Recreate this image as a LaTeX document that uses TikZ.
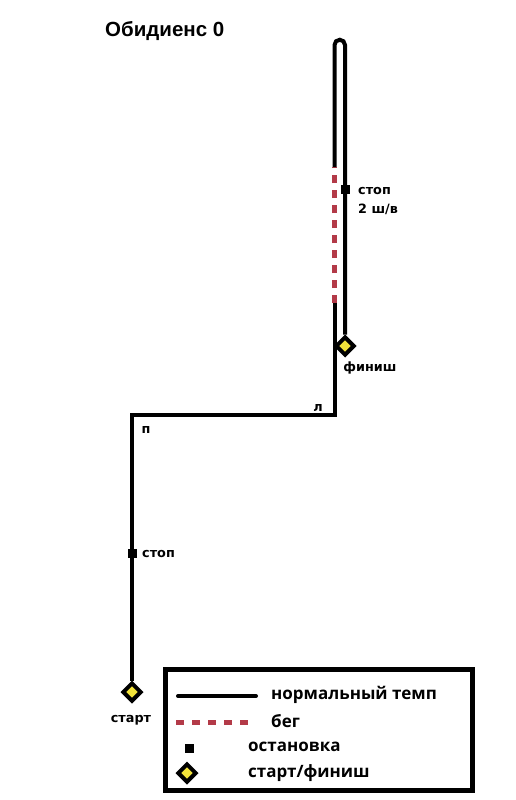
\documentclass[tikz,border=0pt]{standalone}
\usepackage{fontspec}
\setmainfont{Liberation Sans}
\newfontfamily\legfont{Open Sans}
\newfontfamily\lblfont{DejaVu Sans}
\usetikzlibrary{shapes.geometric}
\definecolor{runred}{HTML}{B33A48}
\definecolor{dyellow}{HTML}{F2E33A}
\tikzset{
  walk/.style={line width=4pt, black},
  run/.style={line width=5pt, runred, dash pattern=on 8pt off 7pt},
  stopmark/.style={fill=black, minimum size=9pt, inner sep=0pt, draw=none},
  startmark/.style={diamond, draw=black, line width=4pt, fill=dyellow, minimum size=19pt, inner sep=0pt},
  lbl/.style={font=\lblfont\bfseries\fontsize{12.8pt}{14pt}\selectfont, inner sep=0pt},
  leg/.style={font=\legfont\bfseries\fontsize{17pt}{18pt}\selectfont, inner sep=0pt, anchor=west},
}
\begin{document}
\begin{tikzpicture}[x=1pt,y=-1pt]
\useasboundingbox (0,0) rectangle (516,800);
% title
\node[font=\bfseries\fontsize{20.5pt}{21pt}\selectfont, anchor=west, inner sep=0pt] (title) at (105,31) {Обидиенс 0};
% markers
\node[startmark] (start) at (132,692) {};
\node[startmark] (finish) at (345,346) {};
\coordinate (pcorner) at (132,415);
\coordinate (lcorner) at (334.5,415);
\coordinate (runbot) at (334.5,303);
\coordinate (runtop) at (334.5,167);
\coordinate (hl) at (334.5,45);
\coordinate (hr) at (345,45);
% path
\draw[walk, line join=miter] (start.north) -- (pcorner) -- (lcorner) -- (runbot);
\draw[run] (runbot) -- (runtop);
\draw[walk] (runtop) -- (hl) arc[start angle=180, end angle=360, radius=5.25] -- (finish.north);
% stops
\node[stopmark] (stop1) at (345,189) {};
\node[stopmark] (stop2) at (132,553) {};
% labels
\node[lbl, anchor=west] (stop1lbl) at (358,191) {стоп};
\node[lbl, anchor=west] (stop1lblb) at (358,209) {2 ш/в};
\node[lbl, anchor=west] (stop2lbl) at (142,554) {стоп};
\node[lbl] (finlbl) at (370,368) {финиш};
\node[lbl] (stlbl) at (131,720) {старт};
\node[lbl] (llbl) at (318,408) {л};
\node[lbl] (plbl) at (146,430) {п};
% legend
\draw[line width=5pt] (165,669.5) rectangle (472,790.5);
\coordinate (l1a) at (178,696);
\coordinate (l1b) at (256,696);
\draw[walk, line cap=round] (l1a) -- (l1b);
\node[leg] (t1) at (271,695) {нормальный темп};
\coordinate (l2a) at (176,722);
\coordinate (l2b) at (252,722);
\draw[runred, line width=5pt, dash pattern=on 8pt off 8pt] (l2a) -- (l2b);
\node[leg] (t2) at (271,721) {бег};
\node[stopmark] (lstop) at (189,748) {};
\node[leg] (t3) at (248,747) {остановка};
\node[startmark] (ldia) at (187,773) {};
\node[leg] (t4) at (248,773) {старт/финиш};
\end{tikzpicture}
\end{document}
